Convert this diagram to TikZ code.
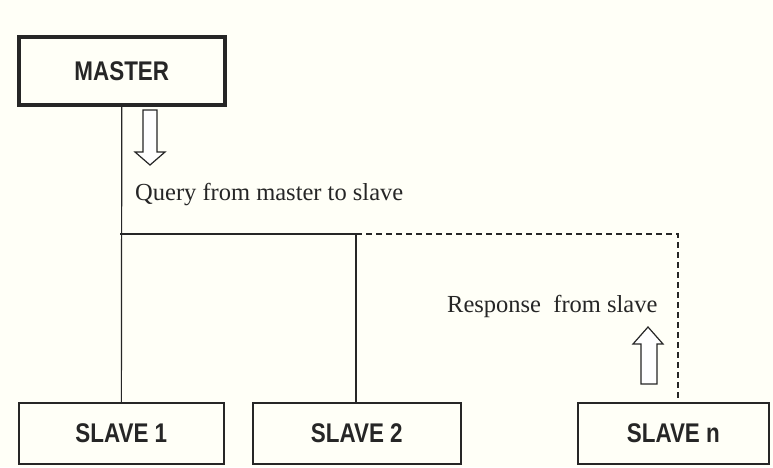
\documentclass[tikz,border=0pt]{standalone}
\usepackage{fontspec}
\setmainfont{Liberation Serif}
\newfontfamily\boxfont{Liberation Sans}
\begin{document}
\begin{tikzpicture}[x=1pt,y=-1pt,
  unitbox/.style={draw=black!85, line width=1.7pt, inner sep=0pt, anchor=north west},
  boxlabel/.style={font=\boxfont\bfseries\fontsize{27}{30}\selectfont, text=black!85},
  link/.style={draw=black!85, line width=1.2pt},
  hollow/.style={draw=black!85, line width=1.2pt, fill=white},
  caption/.style={font=\fontsize{24.5}{28}\selectfont, anchor=base west, inner sep=0pt, text=black!85}]
  % page
  \fill[white!97!yellow] (0,0) rectangle (773,467);
  \useasboundingbox (0,0) rectangle (773,467);

  % units
  \node[unitbox, line width=3.6pt, minimum width=206pt, minimum height=68pt] (master) at (17,35) {};
  \node[boxlabel] at (master.center) {\scalebox{0.83}[1]{MASTER}};
  \node[unitbox, minimum width=205pt, minimum height=61pt] (slave1) at (18,402) {};
  \node[boxlabel] at (slave1.center) {\scalebox{0.83}[1]{SLAVE 1}};
  \node[unitbox, minimum width=208pt, minimum height=61pt] (slave2) at (252,402) {};
  \node[boxlabel] at (slave2.center) {\scalebox{0.83}[1]{SLAVE 2}};
  \node[unitbox, minimum width=191pt, minimum height=61pt] (slaven) at (577,402) {};
  \node[boxlabel] at (slaven.center) {\scalebox{0.83}[1]{SLAVE n}};

  % bus junctions
  \coordinate (j1) at (120,234);
  \coordinate (j2) at (356,234);
  \coordinate (j3) at (678,234);

  % bus lines
  \draw[link] (master.south) -- (slave1.north);
  \draw[link] (j1) -- (j2) -- (j2 |- slave2.north);
  \draw[link, dash pattern=on 6pt off 4pt] (j2) -- (j3) -- (j3 |- slaven.north);

  % direction arrows
  \draw[hollow] (143,110) -- (157,110) -- (157,152) -- (165,152) -- (150,165)
    -- (135,152) -- (143,152) -- cycle;
  \draw[hollow] (641,384) -- (657,384) -- (657,344) -- (663,344) -- (648,327)
    -- (633,344) -- (641,344) -- cycle;

  % captions
  \node[caption] (query) at (135,200) {Query from master to slave};
  \node[caption] (resp) at (447,312) {Response\ \ from slave};
\end{tikzpicture}
\end{document}
